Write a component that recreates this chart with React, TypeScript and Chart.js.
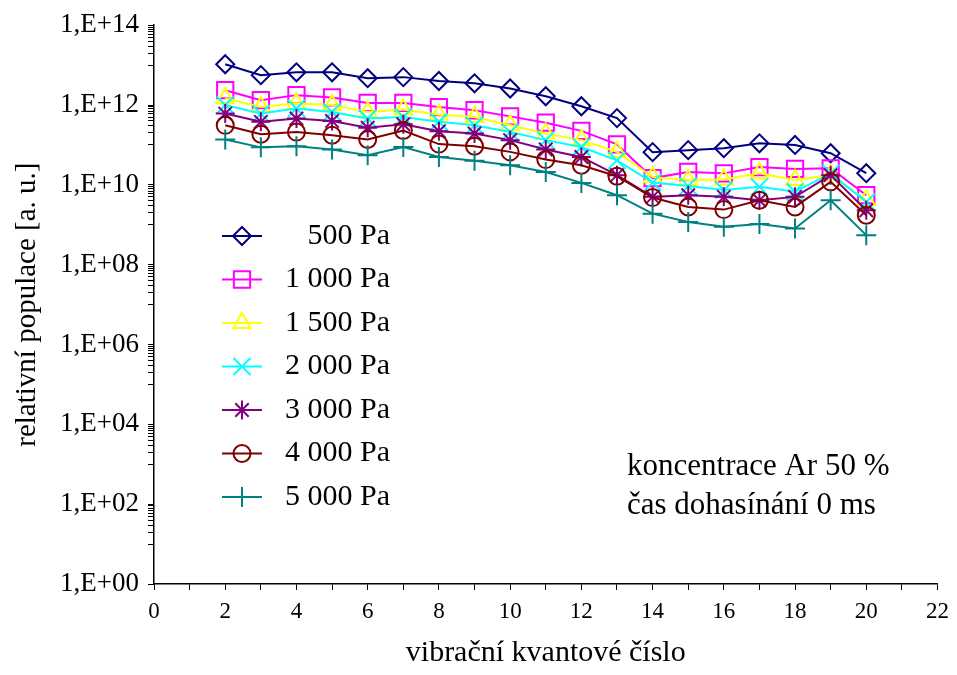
import React, { useEffect, useRef } from 'react';
import { Chart, registerables } from 'chart.js';
import { drawPoint } from 'chart.js/helpers';

Chart.register(...registerables);

// ---- data ----
const vibLevels = [2, 3, 4, 5, 6, 7, 8, 9, 10, 11, 12, 13, 14, 15, 16, 17, 18, 19, 20];

const seriesLabels = ['500 Pa', '1 000 Pa', '1 500 Pa', '2 000 Pa', '3 000 Pa', '4 000 Pa', '5 000 Pa'];

const pop500 = [1.05e13, 5.6e12, 6.6e12, 6.6e12, 4.7e12, 5.0e12, 4.0e12, 3.5e12, 2.6e12, 1.66e12, 9.3e11, 4.7e11, 6.6e10, 7.4e10, 8.3e10, 1.1e11, 1.0e11, 6.2e10, 1.96e10];
const pop1000 = [2.35e12, 1.32e12, 1.77e12, 1.55e12, 1.13e12, 1.13e12, 8.9e11, 7.4e11, 5.2e11, 3.6e11, 2.25e11, 1.03e11, 1.48e10, 2.1e10, 1.94e10, 2.8e10, 2.5e10, 2.6e10, 5.5e9];
const pop1500 = [1.48e12, 8.9e11, 1.1e12, 1.0e12, 6.7e11, 7.7e11, 5.7e11, 5.0e11, 3.1e11, 1.94e11, 1.32e11, 6.7e10, 1.56e10, 1.32e10, 1.37e10, 1.94e10, 1.32e10, 1.75e10, 4.1e9];
const pop2000 = [1.0e12, 6.1e11, 8.2e11, 6.7e11, 4.6e11, 5.0e11, 3.8e11, 3.1e11, 2.1e11, 1.32e11, 8.9e10, 4.1e10, 1.14e10, 9.3e9, 7.4e9, 8.9e9, 6.7e9, 1.94e10, 3.7e9];
const pop3000 = [6.1e11, 3.8e11, 4.6e11, 4.0e11, 2.7e11, 3.3e11, 2.2e11, 1.94e11, 1.32e11, 7.7e10, 5.0e10, 1.75e10, 5.0e9, 5.5e9, 5.0e9, 4.1e9, 5.0e9, 1.75e10, 2.3e9];
const pop4000 = [3.1e11, 1.86e11, 2.1e11, 1.75e11, 1.37e11, 2.3e11, 1.05e11, 9.3e10, 6.7e10, 4.3e10, 3.1e10, 1.65e10, 4.8e9, 2.8e9, 2.4e9, 4.1e9, 2.8e9, 1.19e10, 1.74e9];
const pop5000 = [1.37e11, 8.7e10, 9.3e10, 7.7e10, 5.5e10, 8.9e10, 5.0e10, 4.0e10, 3.1e10, 2.1e10, 1.12e10, 5.5e9, 1.9e9, 1.18e9, 8.9e8, 1.04e9, 8.1e8, 4.1e9, 5.5e8];

const seriesValues = [pop500, pop1000, pop1500, pop2000, pop3000, pop4000, pop5000];

const xMin = 0;
const xMax = 22;
const yMinExp = 0;
const yMaxExp = 14;

const annotationLines = ['koncentrace Ar 50 %', 'čas dohasínání 0 ms'];
const xTitle = 'vibrační kvantové číslo';
const yTitle = 'relativní populace [a. u.]';

// ---- styles ----
const seriesColors = ['#000080', '#FF00FF', '#FFFF00', '#00FFFF', '#800080', '#800000', '#008080'];
const seriesPointStyles = ['rectRot', 'rect', 'triangle', 'crossRot', 'star', 'circle', 'cross'];
const seriesPointRadius = [9, 11.5, 10, 12, 9.5, 8.5, 10];

const FONT = "'Liberation Serif', 'Times New Roman', serif";

function buildYTicks(): number[] {
  const out: number[] = [];
  for (let e = yMinExp; e < yMaxExp; e += 2) {
    out.push(Math.pow(10, e));
    for (let k = 1; k <= 9; k++) out.push(k * Math.pow(10, e + 1));
  }
  out.push(Math.pow(10, yMaxExp));
  return out;
}

const legendPlugin = {
  id: 'innerLegend',
  afterDatasetsDraw(chart: any) {
    const ctx = chart.ctx as CanvasRenderingContext2D;
    const area = chart.chartArea;
    ctx.save();
    const lineX0 = area.left + 68;
    const lineX1 = area.left + 108;
    const textRight = area.left + 236;
    const rowTop = 236;
    const rowGap = 43.5;
    chart.data.datasets.forEach((ds: any, i: number) => {
      const y = rowTop + i * rowGap;
      ctx.strokeStyle = ds.borderColor;
      ctx.lineWidth = 2;
      ctx.beginPath();
      ctx.moveTo(lineX0, y);
      ctx.lineTo(lineX1, y);
      ctx.stroke();
      ctx.fillStyle = 'rgba(0,0,0,0)';
      ctx.strokeStyle = ds.borderColor;
      ctx.lineWidth = 2;
      drawPoint(ctx, { pointStyle: ds.pointStyle, radius: ds.pointRadius, rotation: 0, borderWidth: 2 } as any, (lineX0 + lineX1) / 2, y);
      ctx.fillStyle = '#000';
      ctx.font = `30px ${FONT}`;
      ctx.textAlign = 'right';
      ctx.textBaseline = 'middle';
      ctx.fillText(ds.label, textRight, y);
    });
    ctx.fillStyle = '#000';
    ctx.font = `31px ${FONT}`;
    ctx.textAlign = 'left';
    ctx.textBaseline = 'middle';
    annotationLines.forEach((t, i) => {
      ctx.fillText(t, 627, 467 + i * 39);
    });
    ctx.restore();
  },
};

export default function App() {
  const canvasRef = useRef<HTMLCanvasElement | null>(null);

  useEffect(() => {
    document.body.style.margin = '0';
    const canvas = canvasRef.current;
    if (!canvas) return;
    const yTicks = buildYTicks();

    const datasets = seriesLabels.map((label, i) => ({
      label,
      data: vibLevels.map((x, j) => ({ x, y: seriesValues[i][j] })),
      borderColor: seriesColors[i],
      backgroundColor: 'rgba(0,0,0,0)',
      pointBackgroundColor: 'rgba(0,0,0,0)',
      pointBorderColor: seriesColors[i],
      pointStyle: seriesPointStyles[i],
      pointRadius: seriesPointRadius[i],
      pointBorderWidth: 2,
      borderWidth: 2,
      tension: 0,
      order: seriesLabels.length - i,
    }));

    const chart = new Chart(canvas, {
      type: 'line',
      data: { datasets } as any,
      plugins: [legendPlugin],
      options: {
        animation: false,
        responsive: false,
        maintainAspectRatio: false,
        devicePixelRatio: 1,
        layout: { padding: { left: 0, top: 25, right: 19, bottom: 0 } },
        plugins: {
          legend: { display: false },
          tooltip: { enabled: false },
        },
        scales: {
          x: {
            type: 'linear',
            min: xMin,
            max: xMax,
            afterFit: (scale: any) => {
              scale.height = 91;
            },
            ticks: {
              stepSize: 1,
              autoSkip: false,
              maxRotation: 0,
              padding: 8,
              color: '#000',
              font: { family: FONT, size: 23 },
              callback: (v: any) => (Number(v) % 2 === 0 ? String(v) : ''),
            },
            grid: {
              display: true,
              drawOnChartArea: false,
              drawTicks: true,
              tickLength: 6,
              tickColor: '#000',
              tickWidth: 1,
            },
            border: { display: true, color: '#000', width: 1.5 },
            title: {
              display: true,
              text: xTitle,
              color: '#000',
              font: { family: FONT, size: 30 },
              padding: { top: 0, bottom: 4 },
            },
          },
          y: {
            type: 'logarithmic',
            min: Math.pow(10, yMinExp),
            max: Math.pow(10, yMaxExp),
            afterFit: (scale: any) => {
              scale.width = 154;
            },
            afterBuildTicks: (scale: any) => {
              scale.ticks = yTicks.map((v) => ({ value: v }));
            },
            ticks: {
              autoSkip: false,
              padding: 9,
              color: '#000',
              font: { family: FONT, size: 27 },
              callback: (v: any) => {
                const e = Math.log10(Number(v));
                const r = Math.round(e);
                if (Math.abs(e - r) < 1e-9 && r % 2 === 0) {
                  return `1,E+${String(r).padStart(2, '0')}`;
                }
                return '';
              },
            },
            grid: {
              display: true,
              drawOnChartArea: false,
              drawTicks: true,
              tickLength: 6,
              tickColor: '#000',
              tickWidth: 1,
            },
            border: { display: true, color: '#000', width: 1.5 },
            title: {
              display: true,
              text: yTitle,
              color: '#000',
              font: { family: FONT, size: 29 },
              padding: { top: 10, bottom: 0 },
            },
          },
        },
      } as any,
    });

    return () => {
      chart.destroy();
    };
  }, []);

  return (
    <div style={{ width: 957, height: 675, position: 'relative', background: '#fff' }}>
      <canvas ref={canvasRef} width={957} height={675} style={{ display: 'block' }} />
    </div>
  );
}
